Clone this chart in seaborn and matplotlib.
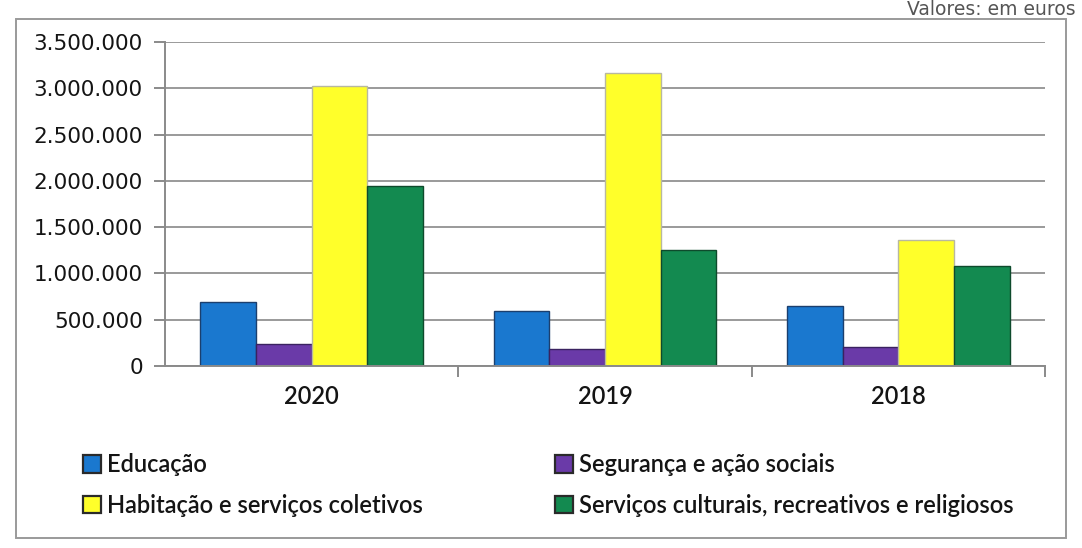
import matplotlib
matplotlib.use("Agg")
import matplotlib.pyplot as plt
import matplotlib.patches as mpatches
from matplotlib.ticker import FuncFormatter, FixedLocator
import seaborn as sns
import pandas as pd

years = ["2020", "2019", "2018"]
series = ["Educação", "Segurança e ação sociais",
          "Habitação e serviços coletivos",
          "Serviços culturais, recreativos e religiosos"]
educacao = [695000, 590000, 650000]
seguranca = [235000, 185000, 205000]
habitacao = [3030000, 3170000, 1360000]
servicos = [1940000, 1250000, 1080000]
colors = ["#1a78cf", "#6a3aa8", "#ffff2a", "#138a50"]
edges = ["#1b3f6e", "#3a2260", "#b8b8a0", "#0e4a2c"]
yticks = [0, 500000, 1000000, 1500000, 2000000, 2500000, 3000000, 3500000]

values = [educacao, seguranca, habitacao, servicos]
rows = []
for s, vals in zip(series, values):
    for y, v in zip(years, vals):
        rows.append({"Ano": y, "Série": s, "Valor": v})
df = pd.DataFrame(rows)

sns.set_theme(style="white")
plt.rcParams["font.family"] = ["DejaVu Sans"]

fig = plt.figure(figsize=(10.82, 5.48), dpi=100)
ax = fig.add_axes([165/1082, 1-366/548, 880/1082, (366-42)/548])

sns.barplot(data=df, x="Ano", y="Valor", hue="Série", order=years,
            hue_order=series, palette=colors, width=0.76, ax=ax,
            saturation=1, legend=False, errorbar=None)

for cont, ec in zip(ax.containers, edges):
    for p in cont:
        p.set_edgecolor(ec)
        p.set_linewidth(1.0)

ax.set_ylim(0, 3500000)
ax.set_xlim(-0.5, 2.5)
ax.yaxis.set_major_locator(FixedLocator(yticks))
ax.yaxis.set_major_formatter(FuncFormatter(lambda v, p: f"{int(v):,}".replace(",", ".")))
ax.grid(axis="y", color="#9a9a9a", linewidth=1.4)
ax.set_axisbelow(True)
for side in ["top", "right"]:
    ax.spines[side].set_visible(False)
for side in ["left", "bottom"]:
    ax.spines[side].set_color("#8a8a8a")
    ax.spines[side].set_linewidth(1.4)
ax.set_xlabel("")
ax.set_ylabel("")
ax.tick_params(axis="y", length=8, width=1.4, color="#8a8a8a", pad=8,
               labelsize=15.5, labelcolor="#141414", left=True)
ax.tick_params(axis="x", which="major", length=0, pad=14, labelsize=17,
               labelcolor="#141414", bottom=False)
ax.set_xticks([0.5, 1.5, 2.5], minor=True)
ax.tick_params(axis="x", which="minor", length=8, width=1.4, color="#8a8a8a", bottom=True)
for lbl in ax.get_xticklabels():
    lbl.set_family(["Lato", "DejaVu Sans"])
    lbl.set_fontweight("semibold")

handles = [mpatches.Patch(facecolor=c, edgecolor="#2a2a2a", linewidth=1.6, label=s)
           for c, s in zip(colors, series)]
order = [0, 2, 1, 3]
leg = fig.legend([handles[i] for i in order], [series[i] for i in order],
                 ncol=2, loc="upper left", bbox_to_anchor=(62/1082, 1-432/548),
                 frameon=False, handlelength=0.75, handleheight=0.75,
                 handletextpad=0.25, columnspacing=5.6, labelspacing=0.75,
                 prop={"family": ["Lato", "DejaVu Sans"], "size": 17, "weight": "semibold"})
for t in leg.get_texts():
    t.set_color("#141414")

fig.patches.append(mpatches.Rectangle((16/1082, 1-538/548), (1066-16)/1082, (538-19)/548,
                                      transform=fig.transFigure, fill=False,
                                      edgecolor="#9a9a9a", linewidth=1.4))

fig.text(1076/1082, 1-15/548, "Valores: em euros", fontsize=13.5, color="#555555",
         ha="right", va="baseline")

fig.savefig("out.png", dpi=100)
